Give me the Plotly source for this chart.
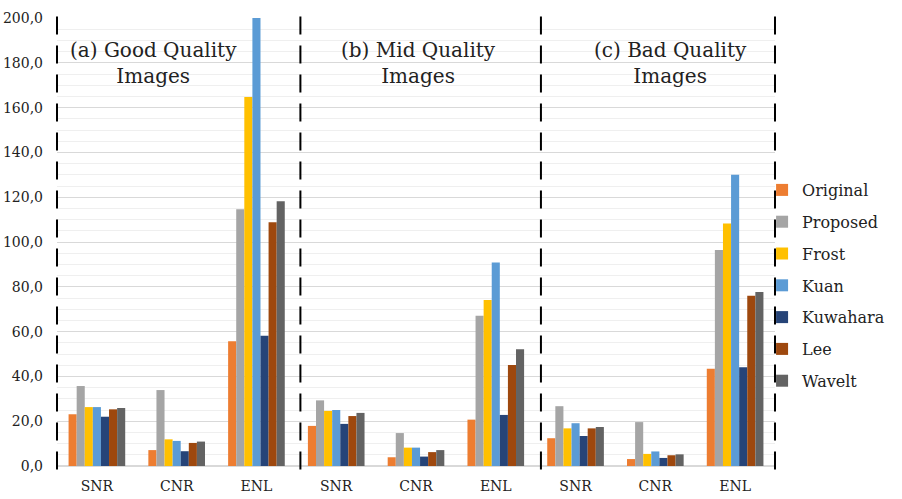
import plotly.graph_objects as go

metrics = ["SNR", "CNR", "ENL"]
panel_titles = ["(a) Good Quality<br>Images", "(b) Mid Quality<br>Images", "(c) Bad Quality<br>Images"]
series_names = ["Original", "Proposed", "Frost", "Kuan", "Kuwahara", "Lee", "Wavelt"]

original = [23.1, 7.1, 55.7, 17.9, 3.9, 20.7, 12.4, 3.1, 43.4]
proposed = [35.7, 33.9, 114.6, 29.3, 14.7, 67.1, 26.7, 19.6, 96.4]
frost = [26.3, 11.9, 164.7, 24.6, 8.2, 74.1, 16.8, 5.4, 108.3]
kuan = [26.3, 11.2, 200.0, 25.0, 8.2, 90.8, 19.1, 6.5, 130.0]
kuwahara = [22.0, 6.6, 58.2, 18.8, 4.2, 22.8, 13.4, 3.6, 44.1]
lee = [25.3, 10.3, 108.8, 22.3, 6.2, 45.1, 16.8, 4.8, 76.0]
wavelt = [25.9, 10.9, 118.2, 23.7, 7.1, 52.1, 17.4, 5.2, 77.7]

colors = ["#ED7D31", "#A5A5A5", "#FFC000", "#5B9BD5", "#264478", "#9E480E", "#636363"]
series = [original, proposed, frost, kuan, kuwahara, lee, wavelt]

FONT = "DejaVu Serif"
TEXT_COLOR = "#222222"
n = len(original)
xpos = list(range(n))
ticktext = metrics * (n // len(metrics))

fig = go.Figure()
for name, vals, col in zip(series_names, series, colors):
    fig.add_trace(go.Bar(x=xpos, y=vals, name=name, marker=dict(color=col, line=dict(width=0)),
                         legendgroup=name))

# dashed panel separators (paper coords)
for xp in [0.0, 0.339, 0.674, 1.0]:
    fig.add_shape(type="line", xref="paper", yref="paper", x0=xp, x1=xp, y0=-0.008, y1=1.025,
                  line=dict(color="black", width=2, dash="18px,11px"), layer="above")

title_x = [0.706, 4.03, 7.19]
for tx, t in zip(title_x, panel_titles):
    fig.add_annotation(x=tx, y=180, xref="x", yref="y", text=t, showarrow=False,
                       font=dict(family=FONT, size=20, color=TEXT_COLOR), align="center",
                       xanchor="center", yanchor="middle")

fig.update_layout(
    width=902, height=499,
    margin=dict(l=57, r=124, t=18, b=33),
    plot_bgcolor="white", paper_bgcolor="white",
    barmode="group", bargap=0.29, bargroupgap=0,
    separators=", ",
    font=dict(family=FONT, size=14, color=TEXT_COLOR),
    legend=dict(x=0.982, xanchor="left", y=0.654, yanchor="top",
                font=dict(family=FONT, size=16, color=TEXT_COLOR),
                tracegroupgap=8, bgcolor="rgba(0,0,0,0)"),
    showlegend=True,
)
fig.update_xaxes(range=[-0.5, n - 0.5], tickmode="array", tickvals=xpos, ticktext=ticktext,
                 showgrid=False, zeroline=False, showline=False, ticks="", ticklabelstandoff=10,
                 tickfont=dict(family=FONT, size=14, color=TEXT_COLOR), automargin=False)
fig.update_yaxes(range=[0, 200], dtick=20, tickformat=".1f", showgrid=True, gridcolor="#d9d9d9",
                 gridwidth=1, zeroline=True, zerolinecolor="#d9d9d9", showline=False, ticks="",
                 ticklabelstandoff=13, tickfont=dict(family=FONT, size=14, color=TEXT_COLOR),
                 automargin=False,
                 minor=dict(dtick=5, showgrid=True, gridcolor="#efefef", gridwidth=1))

fig.write_html("out.html", config={"displayModeBar": False},
               post_script="document.body.style.margin='0';document.body.style.overflow='hidden';")
